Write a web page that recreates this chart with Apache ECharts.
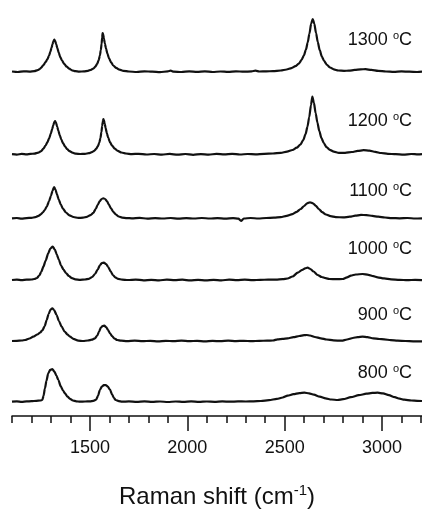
<!DOCTYPE html>
<html>
<head>
<meta charset="utf-8">
<script src="https://cdn.jsdelivr.net/npm/echarts@6/dist/echarts.min.js"></script>
<style>
  html, body { margin: 0; padding: 0; background: #fff; }
  #chart { width: 422px; height: 510px; }
</style>
</head>
<body>
<div id="chart"></div>
<script>
// tick positions on the Raman shift axis
const minorTicks = [1100, 1200, 1300, 1400, 1500, 1600, 1700, 1800, 1900, 2000, 2100, 2200,
  2300, 2400, 2500, 2600, 2700, 2800, 2900, 3000, 3100, 3200]
const majorTicks = [1500, 2000, 2500, 3000]

// annealing temperatures, bottom to top
const temps = ['800', '900', '1000', '1100', '1200', '1300']
// vertical stacking offset of each spectrum
const offsets = [14.3, 75, 136, 197.7, 261.8, 344.3]

// [Raman shift, intensity above own baseline]
const spec800 = [[1100, 0], [1125, 0.3], [1150, -0.2], [1175, 0.3], [1200, 0.5], [1225, 0.9], [1245, 1.2], [1256, 1.8], [1262, 6], [1269, 13.3], [1277, 21], [1286, 28.3], [1296, 31.8], [1307, 32.7], [1318, 30], [1328, 26], [1338, 21.7], [1350, 15.5], [1362, 11.2], [1372, 8.3], [1385, 5], [1398, 2.8], [1412, 1.2], [1430, 0.4], [1449, 0], [1475, 0.2], [1500, 0.4], [1518, 0.9], [1532, 2], [1542, 6], [1551, 11.7], [1561, 15], [1571, 16.5], [1581, 16.7], [1592, 15], [1603, 12], [1614, 7.2], [1623, 3.8], [1632, 1.7], [1648, 0.6], [1665, 0], [1700, 0.3], [1740, -0.2], [1780, 0.3], [1820, -0.2], [1860, 0.2], [1900, -0.3], [1940, 0.2], [1980, -0.2], [2020, 0.3], [2060, -0.2], [2100, 0.2], [2140, -0.1], [2180, 0.3], [2220, 0], [2260, 0.3], [2300, 0.2], [2340, 0.4], [2378, 0.7], [2420, 1.5], [2460, 2.8], [2490, 4.2], [2515, 6], [2545, 7.5], [2575, 8.6], [2601, 9], [2625, 8.4], [2650, 7], [2680, 5], [2710, 3.3], [2740, 2.2], [2772, 1.7], [2800, 2.5], [2840, 4.5], [2880, 6.5], [2920, 8], [2950, 8.8], [2977, 9], [3005, 8.3], [3035, 6.5], [3065, 4.5], [3090, 3], [3114, 2], [3150, 1.2], [3180, 0.9], [3205, 0.7]]

const spec900 = [[1100, 0], [1125, 0.2], [1150, 0.5], [1167, 1], [1190, 2.5], [1209, 4.3], [1230, 6.5], [1245, 8.5], [1257, 11], [1268, 15], [1278, 21], [1288, 27], [1298, 31.5], [1307, 32.7], [1316, 31], [1329, 26], [1341, 20], [1355, 14.3], [1370, 9.5], [1385, 6.5], [1398, 4.3], [1415, 2.2], [1440, 0.4], [1465, 0], [1490, 0.5], [1510, 1.3], [1526, 2.7], [1538, 5.5], [1547, 9.5], [1556, 13.3], [1565, 15], [1574, 15.3], [1583, 14], [1593, 11], [1603, 7.7], [1614, 4.8], [1626, 2.5], [1640, 1], [1660, 0.3], [1690, -0.2], [1730, 0.3], [1770, -0.2], [1810, 0.2], [1850, -0.3], [1890, 0.2], [1930, -0.2], [1970, 0.3], [2010, -0.2], [2050, 0.2], [2090, -0.3], [2130, 0.1], [2170, -0.2], [2210, 0.3], [2250, -0.1], [2290, 0.2], [2330, -0.2], [2370, 0.2], [2410, 0.3], [2440, 0.5], [2464, 1.7], [2490, 2.2], [2515, 2.7], [2545, 3.8], [2575, 5], [2600, 5.8], [2613, 6], [2630, 5.5], [2655, 4], [2686, 2.7], [2715, 1.5], [2750, 0.6], [2793, 0.3], [2820, 1.5], [2850, 3], [2875, 3.9], [2900, 4.3], [2925, 3.8], [2955, 2.7], [2985, 2], [3011, 1.7], [3045, 0.8], [3080, 0.3], [3120, 0], [3160, -0.3], [3205, -0.4]]

const spec1000 = [[1100, 0], [1125, 0.4], [1150, -0.2], [1175, 0.3], [1200, 0.5], [1215, 1.0], [1228, 2], [1240, 4.5], [1250, 8], [1261, 13.3], [1273, 19.5], [1286, 26.7], [1297, 31.5], [1309, 33.3], [1320, 30.5], [1330, 25.5], [1340, 20.5], [1352, 14.5], [1364, 10.5], [1377, 7], [1392, 4], [1408, 1.8], [1425, 0.6], [1450, 0.2], [1475, 0.5], [1495, 1.2], [1512, 3], [1526, 6], [1540, 10.5], [1552, 15], [1562, 17], [1572, 17.3], [1583, 16], [1594, 13], [1606, 8.8], [1618, 5], [1630, 2.6], [1645, 1.2], [1665, 0.4], [1695, 0], [1735, 0.4], [1775, -0.3], [1815, 0.2], [1855, -0.3], [1895, 0.3], [1935, -0.2], [1975, 0.3], [2015, -0.4], [2055, 0.1], [2095, -0.3], [2135, 0.2], [2175, -0.3], [2215, 0.3], [2255, -0.1], [2295, 0.3], [2335, -0.2], [2375, 0.2], [2415, 0.3], [2455, 0.4], [2490, 0.8], [2515, 1.5], [2540, 3.5], [2567, 7.3], [2590, 10.2], [2605, 11.7], [2618, 12.3], [2632, 11], [2648, 8.5], [2669, 5], [2690, 3], [2710, 1.8], [2730, 1], [2765, 0.8], [2798, 1], [2820, 2.6], [2840, 4.4], [2865, 5.5], [2900, 6], [2930, 5.2], [2955, 3.8], [2977, 2.7], [3010, 1.6], [3046, 0.7], [3090, 0.2], [3130, -0.2], [3170, 0.2], [3205, -0.1]]

const spec1100 = [[1100, 0], [1125, 0.3], [1150, -0.3], [1175, 0.2], [1200, 0.5], [1220, 1.2], [1236, 2.5], [1248, 4], [1258, 5.8], [1268, 8.3], [1279, 12], [1290, 17], [1300, 22.5], [1308, 27.5], [1316, 31.3], [1323, 28.8], [1331, 24], [1340, 18.8], [1350, 14], [1362, 9.5], [1377, 5.8], [1395, 3], [1415, 1.3], [1440, 0.4], [1465, 0.6], [1485, 1.5], [1503, 3.2], [1518, 5.5], [1530, 9.5], [1540, 13.5], [1550, 17], [1560, 19.3], [1569, 20], [1578, 19.3], [1588, 17], [1598, 13.5], [1608, 10], [1620, 6.5], [1633, 3.8], [1648, 1.8], [1665, 0.7], [1690, 0.2], [1715, 0], [1755, 0.4], [1795, -0.3], [1835, 0.2], [1875, -0.2], [1915, 0.3], [1955, -0.3], [1995, 0.2], [2035, -0.2], [2075, 0.3], [2115, -0.2], [2155, 0.2], [2195, -0.3], [2235, 0.1], [2262, -0.3], [2276, -2.5], [2290, -0.2], [2325, 0.3], [2365, -0.2], [2405, 0.3], [2445, 0.6], [2480, 1.2], [2510, 2.4], [2540, 4.2], [2562, 6.5], [2582, 9.3], [2600, 12.3], [2615, 15], [2630, 16], [2645, 15], [2660, 12.5], [2675, 9.3], [2692, 6.2], [2712, 3.8], [2735, 2.1], [2762, 1.2], [2800, 0.9], [2835, 1.6], [2862, 2.6], [2892, 3.4], [2920, 3.2], [2950, 2.4], [2980, 1.6], [3015, 0.8], [3050, 0.2], [3090, 0], [3130, 0.3], [3170, -0.2], [3205, 0]]

const spec1200 = [[1100, 0], [1125, -0.4], [1150, 0.3], [1175, -0.2], [1195, 0.3], [1215, 0.6], [1235, 1.5], [1250, 3], [1261, 5.5], [1272, 8.5], [1282, 12], [1291, 16], [1299, 20.5], [1306, 25], [1312, 29], [1317, 32], [1321, 33], [1326, 31.5], [1332, 27.5], [1338, 23.5], [1345, 19], [1353, 14.8], [1362, 11], [1372, 7.8], [1383, 5], [1396, 3], [1410, 1.5], [1428, 0.5], [1450, 0.2], [1475, 0.4], [1495, 1.0], [1510, 2.0], [1522, 3.4], [1532, 5.3], [1541, 8], [1548, 11.5], [1554, 16], [1559, 22], [1563, 28], [1566, 32.5], [1569, 35], [1572, 34], [1576, 30.5], [1581, 26], [1587, 21], [1594, 16.5], [1603, 12], [1614, 8.5], [1627, 5.6], [1643, 3.3], [1662, 1.7], [1685, 0.7], [1715, 0.1], [1750, 0.4], [1790, -0.3], [1830, 0.2], [1870, -0.4], [1910, 0.3], [1950, -0.5], [1990, 0.2], [2030, -0.6], [2070, 0.1], [2110, -0.4], [2150, 0.3], [2190, -0.2], [2230, 0.4], [2270, -0.3], [2310, 0.2], [2350, -0.1], [2395, 0.4], [2440, 0.7], [2480, 1.4], [2512, 2.5], [2540, 4.2], [2562, 6.5], [2580, 9.5], [2595, 14], [2607, 20], [2617, 27.5], [2626, 37], [2635, 49], [2642, 57.6], [2650, 51.5], [2659, 41], [2668, 31.5], [2678, 23], [2689, 16], [2701, 11], [2715, 7], [2732, 4.3], [2752, 2.5], [2778, 1.4], [2810, 1.3], [2845, 2.2], [2875, 3.3], [2905, 4], [2935, 3.5], [2965, 2.3], [2995, 1.2], [3030, 0.4], [3070, 0], [3110, -0.4], [3150, 0.2], [3185, -0.2], [3205, 0]]

const spec1300 = [[1100, 0.2], [1130, -0.3], [1160, 0.4], [1190, 0.1], [1215, 0.6], [1232, 1.5], [1242, 2.6], [1250, 4], [1261, 6.5], [1272, 9.5], [1282, 12.5], [1290, 16], [1297, 20], [1303, 24], [1308, 27.5], [1312, 30], [1317, 32], [1322, 30.5], [1327, 27.5], [1333, 23.5], [1340, 19], [1348, 14.5], [1357, 11], [1368, 7.8], [1381, 5], [1394, 3], [1408, 1.4], [1425, 0.5], [1445, 0.1], [1470, 0.3], [1490, 0.9], [1505, 1.8], [1518, 3.2], [1528, 5], [1537, 7.8], [1545, 11.5], [1551, 16], [1556, 21.5], [1560, 28], [1563, 34], [1565, 38.7], [1568, 37.5], [1572, 33], [1577, 28], [1583, 23], [1590, 18], [1598, 13.5], [1608, 9.5], [1620, 6.2], [1635, 3.8], [1652, 2], [1672, 0.8], [1700, 0.2], [1740, -0.3], [1780, 0.4], [1820, 0], [1860, -0.4], [1900, 0.3], [1915, 1.0], [1930, 0.1], [1970, -0.3], [2010, 0.4], [2050, -0.2], [2090, 0.3], [2130, -0.3], [2170, 0.2], [2210, -0.2], [2250, 0.4], [2290, 0], [2330, 0.3], [2350, 1.0], [2370, 0.2], [2405, 0.4], [2440, 0.5], [2480, 1.2], [2510, 2.2], [2535, 3.6], [2555, 5.5], [2572, 8], [2586, 11.5], [2598, 16], [2609, 22], [2618, 29], [2627, 38], [2636, 48], [2644, 52.7], [2652, 48], [2661, 38.5], [2670, 29.5], [2680, 21.5], [2691, 15], [2703, 10.5], [2717, 6.8], [2733, 4.2], [2752, 2.3], [2775, 1.2], [2805, 0.9], [2830, 1.0], [2860, 1.8], [2890, 2.4], [2915, 2.5], [2945, 1.8], [2980, 0.8], [3020, 0.2], [3060, -0.2], [3100, 0.3], [3140, 0], [3180, -0.3], [3205, 0]]

const spectra = [spec800, spec900, spec1000, spec1100, spec1200, spec1300]

// label layout (pixel tops of the temperature labels)
const labelTops = [363, 305, 239, 181, 111, 30]

const font = '"Liberation Sans", Arial, sans-serif'
const ink = '#111'

const chart = echarts.init(document.getElementById('chart'), null, { renderer: 'canvas' })

const series = spectra.map((spec, i) => ({
  name: temps[i],
  type: 'line',
  xAxisIndex: 0,
  yAxisIndex: 0,
  showSymbol: false,
  smooth: 0.25,
  smoothMonotone: 'x',
  silent: true,
  lineStyle: { color: ink, width: 2.2 },
  data: spec.map(p => [p[0], p[1] + offsets[i]])
}))

const labels = temps.map((t, i) => ({
  type: 'text',
  right: 10,
  top: labelTops[i],
  style: {
    text: '{n|' + t + ' }{o|o}{n|C}',
    rich: {
      n: { fontSize: 18, fontFamily: font, fill: ink, lineHeight: 20 },
      o: { fontSize: 11, fontFamily: font, fill: ink, lineHeight: 12, verticalAlign: 'top' }
    }
  }
}))

const option = {
  backgroundColor: '#fff',
  animation: false,
  grid: [
    { left: 12, right: 0, top: 0, bottom: 94, outerBoundsMode: 'none' },
    { left: 12, right: 0, top: 0, bottom: 94, outerBoundsMode: 'none' }
  ],
  xAxis: [
    {
      gridIndex: 0,
      type: 'value',
      min: 1100,
      max: 3205,
      splitLine: { show: false },
      axisLine: { lineStyle: { color: ink, width: 1.5 } },
      axisTick: { customValues: minorTicks, length: 7, lineStyle: { color: ink, width: 1.5 } },
      axisLabel: {
        customValues: majorTicks,
        formatter: v => String(v),
        margin: 23,
        fontSize: 18,
        fontFamily: font,
        color: ink
      },
      name: '{a|Raman shift (cm}{s|-1}{a|)}',
      nameLocation: 'middle',
      nameGap: 67,
      nameTextStyle: {
        rich: {
          a: { fontSize: 24, fontFamily: font, color: ink, lineHeight: 28 },
          s: { fontSize: 15, fontFamily: font, color: ink, lineHeight: 15, verticalAlign: 'top' }
        }
      }
    },
    {
      gridIndex: 1,
      type: 'value',
      min: 1100,
      max: 3205,
      splitLine: { show: false },
      axisLine: { show: false },
      axisTick: { customValues: majorTicks, length: 15, lineStyle: { color: ink, width: 1.5 } },
      axisLabel: { show: false }
    }
  ],
  yAxis: [
    { gridIndex: 0, type: 'value', min: 0, max: 416, show: false },
    { gridIndex: 1, type: 'value', min: 0, max: 416, show: false }
  ],
  graphic: labels,
  series
}

chart.setOption(option)
</script>
</body>
</html>
